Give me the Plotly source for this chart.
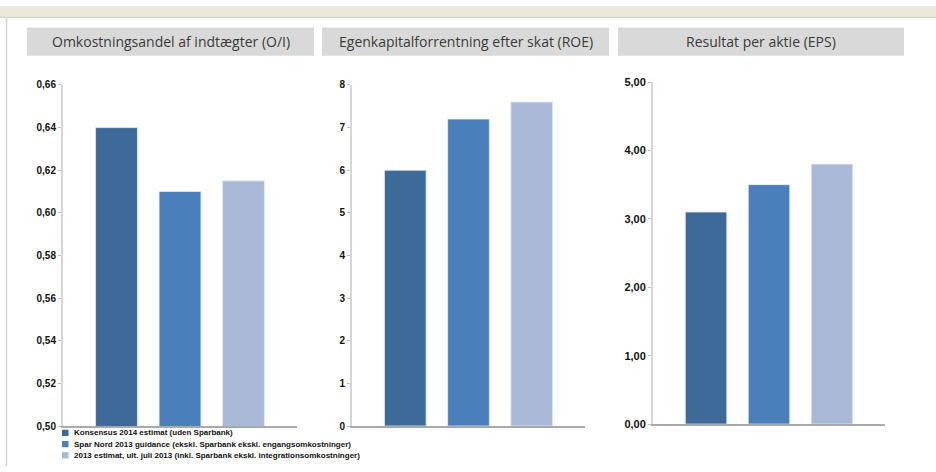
import plotly.graph_objects as go

W, H = 936, 472

# ---- data ----
panel_titles = ["Omkostningsandel af indtægter (O/I)",
                "Egenkapitalforrentning efter skat (ROE)",
                "Resultat per aktie (EPS)"]
series_names = ["Konsensus 2014 estimat (uden Sparbank)",
                "Spar Nord 2013 guidance (ekskl. Sparbank ekskl. engangsomkostninger)",
                "2013 estimat, ult. juli 2013 (inkl. Sparbank ekskl. integrationsomkostninger)"]
oi_values = [0.64, 0.61, 0.615]
roe_values = [6.0, 7.2, 7.6]
eps_values = [3.1, 3.5, 3.8]
y_ranges = [[0.50, 0.66], [0, 8], [0, 5]]
y_dticks = [0.02, 1, 1]
y_formats = [".2f", "d", ".2f"]
colors = ["#3e6a9a", "#4b7fbc", "#aab9d8"]

panel_values = [oi_values, roe_values, eps_values]

# ---- layout geometry (pixels) ----
px_x = [(63, 297), (352, 585), (653, 885)]
px_y = [(81, 431), (81, 431), (78, 429)]
tick_sizes = [10, 10, 11]
title_boxes = [(27, 314), (322, 609), (618, 904)]

def fx(p):
    return p / W

def fy(p):
    return 1 - p / H

fig = go.Figure()
layout = dict(
    width=W, height=H,
    margin=dict(l=0, r=0, t=0, b=0),
    paper_bgcolor="white", plot_bgcolor="white",
    barmode="group", bargap=0.186, bargroupgap=0.34,
    showlegend=False,
    separators=",.",
)

for i, vals in enumerate(panel_values):
    ax = "" if i == 0 else str(i + 1)
    for j, v in enumerate(vals):
        fig.add_trace(go.Bar(
            x=["k"], y=[v], name=series_names[j],
            marker=dict(color=colors[j], line=dict(color="rgba(230,236,246,0.8)", width=1)),
            xaxis="x" + ax, yaxis="y" + ax, offsetgroup=str(j),
        ))
    layout["xaxis" + ax] = dict(
        domain=[fx(px_x[i][0]), fx(px_x[i][1])],
        anchor="y" + ax, range=[-0.5, 0.5],
        showline=True, linecolor="#a9a9a9", linewidth=2,
        showticklabels=False, ticks="", showgrid=False, zeroline=False,
    )
    layout["yaxis" + ax] = dict(
        domain=[fy(px_y[i][1]), fy(px_y[i][0])],
        anchor="x" + ax, range=y_ranges[i], dtick=y_dticks[i], tick0=y_ranges[i][0],
        tickformat=y_formats[i],
        showline=True, linecolor="#d6d6d6", linewidth=2,
        ticks="outside", ticklen=3, tickcolor="#c0c0c0", tickwidth=1,
        tickfont=dict(family="Liberation Sans", size=tick_sizes[i], color="#111111", weight="bold"),
        showgrid=False, zeroline=False,
    )

shapes = []
annotations = []
# top beige strip
shapes.append(dict(type="rect", xref="paper", yref="paper", x0=0, x1=1,
                   y0=fy(11), y1=1, fillcolor="#ebe9d9", line=dict(width=0), layer="below"))
shapes.append(dict(type="line", xref="paper", yref="paper", x0=0, x1=1,
                   y0=fy(11.5), y1=fy(11.5), line=dict(color="#d9d7c9", width=1.5)))
# left border
shapes.append(dict(type="line", xref="paper", yref="paper", x0=fx(6.5), x1=fx(6.5),
                   y0=0, y1=fy(12), line=dict(color="#d3d3d3", width=1.5)))
# title boxes
for (x0, x1), t in zip(title_boxes, panel_titles):
    shapes.append(dict(type="rect", xref="paper", yref="paper", x0=fx(x0), x1=fx(x1),
                       y0=fy(51), y1=fy(22), fillcolor="#d9d9d9", line=dict(width=0),
                       layer="below"))
    annotations.append(dict(xref="paper", yref="paper", x=fx((x0 + x1) / 2), y=fy(36.5),
                            text=t, showarrow=False, xanchor="center", yanchor="middle",
                            font=dict(family="Open Sans", size=14, color="#3a3a3a")))
# legend
leg_y = [438, 449.5, 461]
for name, c, yy in zip(series_names, colors, leg_y):
    shapes.append(dict(type="rect", xref="paper", yref="paper", x0=fx(62), x1=fx(68.5),
                       y0=fy(yy + 3.2), y1=fy(yy - 3.2), fillcolor=c, line=dict(width=0)))
    annotations.append(dict(xref="paper", yref="paper", x=fx(71.5), y=fy(yy),
                            text=name, showarrow=False, xanchor="left", yanchor="middle",
                            font=dict(family="Liberation Sans", size=8, color="#111111",
                                      weight="bold")))

layout["shapes"] = shapes
layout["annotations"] = annotations
fig.update_layout(**layout)
fig.write_html("out.html")
